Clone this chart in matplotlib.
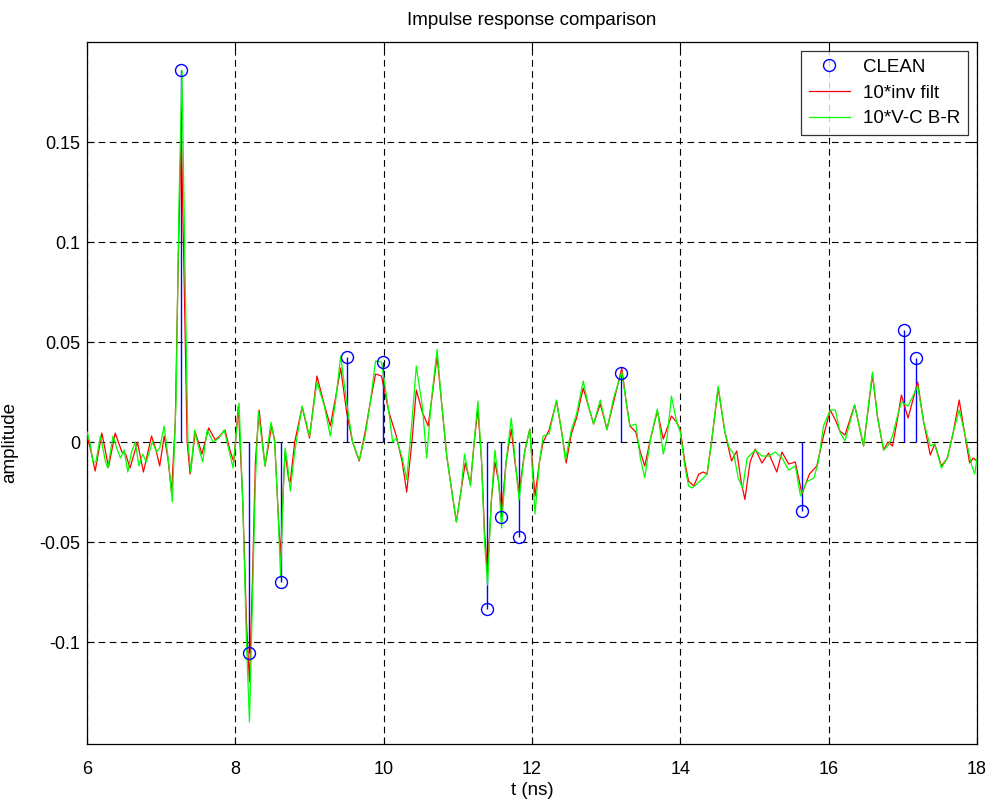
import matplotlib
matplotlib.use("Agg")
import matplotlib.pyplot as plt

plt.rcParams['font.family'] = ['Liberation Sans', 'DejaVu Sans']

# CLEAN components (time in ns, amplitude)
clean_t = [7.267, 8.184, 8.616, 9.505, 9.99, 11.393, 11.58, 11.82, 13.2, 15.64, 17.015, 17.18]
clean_a = [0.186, -0.1055, -0.07, 0.0425, 0.040, -0.0835, -0.0375, -0.0475, 0.0345, -0.0345, 0.056, 0.042]

# 10 * inverse filter response
inv_t = [6.00, 6.05, 6.11, 6.20, 6.29, 6.38, 6.47, 6.52, 6.58, 6.68, 6.76, 6.87, 6.93, 6.98,
         7.04, 7.09, 7.14, 7.19, 7.23, 7.27, 7.31, 7.35, 7.39, 7.46, 7.55, 7.64, 7.73, 7.79,
         7.86, 7.93, 7.98, 8.04, 8.10, 8.15, 8.19, 8.23, 8.27, 8.32, 8.40, 8.49, 8.53, 8.57,
         8.61, 8.65, 8.67, 8.72, 8.74, 8.80, 8.90, 9.00, 9.10, 9.19, 9.28, 9.35, 9.42, 9.50,
         9.58, 9.67, 9.75, 9.82, 9.89, 9.97, 10.07, 10.17, 10.25, 10.31, 10.38, 10.44, 10.52,
         10.60, 10.66, 10.72, 10.78, 10.85, 10.92, 10.98, 11.04, 11.10, 11.17, 11.22, 11.27,
         11.32, 11.36, 11.40, 11.45, 11.50, 11.55, 11.59, 11.65, 11.72, 11.77, 11.825, 11.90,
         11.97, 12.04, 12.10, 12.15, 12.23, 12.33, 12.40, 12.46, 12.53, 12.60, 12.69, 12.76,
         12.83, 12.92, 13.01, 13.10, 13.21, 13.27, 13.32, 13.40, 13.46, 13.52, 13.60, 13.69,
         13.77, 13.88, 13.95, 14.00, 14.06, 14.11, 14.18, 14.25, 14.31, 14.36, 14.42, 14.51,
         14.60, 14.69, 14.76, 14.82, 14.87, 14.94, 15.01, 15.10, 15.19, 15.30, 15.37, 15.46,
         15.55, 15.64, 15.74, 15.84, 15.93, 16.02, 16.09, 16.15, 16.22, 16.35, 16.47, 16.59,
         16.66, 16.74, 16.80, 16.86, 16.92, 16.98, 17.07, 17.20, 17.28, 17.37, 17.43, 17.52,
         17.60, 17.68, 17.76, 17.83, 17.90, 17.95, 18.00]
inv_a = [0.003, -0.004, -0.0145, 0.0045, -0.0125, 0.0045, -0.005, -0.006, -0.013, 0.0, -0.015,
         0.003, -0.004, -0.012, 0.003, -0.008, -0.025, 0.01, 0.09, 0.156, 0.08, 0.0, -0.016,
         0.005, -0.006, 0.007, 0.001, 0.003, 0.006, -0.0045, -0.01, 0.018, -0.03, -0.09, -0.12,
         -0.07, -0.01, 0.016, -0.012, 0.008, 0.001, -0.03, -0.058, -0.02, -0.005, -0.019, -0.02,
         0.0, 0.0175, 0.002, 0.033, 0.02, 0.008, 0.022, 0.037, 0.015, 0.0, -0.0095, 0.005, 0.02,
         0.034, 0.033, 0.015, 0.003, -0.01, -0.025, 0.0, 0.026, 0.015, 0.008, 0.025, 0.043, 0.02,
         -0.007, -0.025, -0.040, -0.025, -0.0105, -0.021, 0.0, 0.0165, -0.01, -0.045, -0.0655,
         -0.03, -0.010, -0.02, -0.035, -0.01, 0.0065, -0.01, -0.0255, -0.005, 0.0065, -0.027,
         -0.01, 0.0, 0.006, 0.0205, 0.005, -0.0105, 0.004, 0.012, 0.027, 0.018, 0.009, 0.019,
         0.0065, 0.02, 0.037, 0.02, 0.008, 0.005, -0.005, -0.012, 0.002, 0.0155, 0.0015, 0.013,
         0.01, 0.006, -0.01, -0.0195, -0.022, -0.016, -0.015, -0.016, 0.0, 0.027, 0.005, -0.0095,
         -0.0045, -0.02, -0.0287, -0.01, -0.0035, -0.0105, -0.0055, -0.015, -0.005, -0.011,
         -0.010, -0.026, -0.016, -0.012, 0.003, 0.016, 0.011, 0.0055, 0.0035, 0.0185, -0.002,
         0.0335, 0.012, -0.004, 0.0, -0.002, 0.01, 0.0235, 0.012, 0.030, 0.01, -0.0065, -0.001,
         -0.012, -0.008, 0.005, 0.021, 0.005, -0.0105, -0.008, -0.0095]

# 10 * V-C B-R response
vc_t = [6.00, 6.04, 6.08, 6.12, 6.18, 6.25, 6.28, 6.35, 6.40, 6.45, 6.50, 6.55, 6.60, 6.65,
        6.70, 6.75, 6.80, 6.88, 6.94, 6.98, 7.04, 7.10, 7.15, 7.20, 7.24, 7.28, 7.32, 7.36,
        7.40, 7.45, 7.50, 7.56, 7.62, 7.70, 7.78, 7.85, 7.92, 7.97, 8.05, 8.10, 8.15, 8.19,
        8.23, 8.27, 8.31, 8.40, 8.48, 8.53, 8.57, 8.61, 8.64, 8.67, 8.70, 8.74, 8.80, 8.90,
        9.00, 9.10, 9.20, 9.28, 9.35, 9.42, 9.50, 9.58, 9.67, 9.75, 9.82, 9.89, 9.97, 10.07,
        10.12, 10.17, 10.25, 10.31, 10.38, 10.44, 10.52, 10.58, 10.64, 10.72, 10.78, 10.85,
        10.92, 10.98, 11.04, 11.09, 11.17, 11.22, 11.27, 11.32, 11.36, 11.40, 11.45, 11.50,
        11.55, 11.59, 11.65, 11.72, 11.77, 11.825, 11.90, 11.97, 12.04, 12.10, 12.15, 12.23,
        12.33, 12.40, 12.45, 12.53, 12.60, 12.69, 12.76, 12.83, 12.92, 13.01, 13.10, 13.21,
        13.27, 13.32, 13.40, 13.46, 13.52, 13.60, 13.69, 13.77, 13.82, 13.88, 13.95, 14.00,
        14.06, 14.11, 14.16, 14.25, 14.31, 14.36, 14.42, 14.51, 14.60, 14.66, 14.72, 14.78,
        14.84, 14.90, 15.01, 15.10, 15.19, 15.28, 15.37, 15.46, 15.55, 15.62, 15.70, 15.80,
        15.86, 15.93, 16.02, 16.09, 16.15, 16.22, 16.35, 16.47, 16.59, 16.66, 16.74, 16.80,
        16.86, 16.92, 16.98, 17.07, 17.20, 17.28, 17.37, 17.43, 17.52, 17.60, 17.68, 17.76,
        17.83, 17.93, 17.97, 18.00]
vc_a = [0.005, 0.0, -0.01, -0.01, 0.003, -0.01, -0.013, 0.003, -0.003, -0.008, -0.004, -0.015,
        -0.005, 0.0, -0.012, -0.006, -0.01, 0.0, -0.005, -0.003, 0.008, -0.01, -0.03, 0.02,
        0.12, 0.186, 0.09, 0.0, -0.015, 0.006, -0.002, -0.01, 0.006, 0.0, 0.002, 0.006, -0.005,
        -0.013, 0.0195, -0.03, -0.10, -0.14, -0.08, -0.02, 0.015, -0.012, 0.01, 0.0, -0.03,
        -0.0675, -0.03, -0.003, -0.01, -0.0245, -0.005, 0.018, 0.003, 0.03, 0.018, 0.003, 0.02,
        0.043, 0.02, 0.0, -0.009, 0.003, 0.02, 0.0405, 0.04, 0.015, 0.0, 0.002, -0.008, -0.0187,
        0.01, 0.038, 0.018, -0.008, 0.02, 0.0463, 0.02, -0.007, -0.025, -0.040, -0.025, -0.006,
        -0.022, 0.0, 0.0205, -0.01, -0.05, -0.0715, -0.03, -0.004, -0.02, -0.043, -0.01, 0.012,
        -0.008, -0.029, -0.005, 0.0065, -0.036, -0.01, 0.003, 0.004, 0.021, 0.005, -0.009, 0.006,
        0.014, 0.0305, 0.018, 0.009, 0.021, 0.006, 0.022, 0.035, 0.02, 0.008, 0.009, -0.008,
        -0.0178, 0.002, 0.0165, -0.006, 0.002, 0.023, 0.01, 0.005, -0.012, -0.022, -0.023,
        -0.02, -0.018, -0.016, 0.0, 0.028, 0.005, -0.003, -0.006, -0.018, -0.023, -0.008,
        -0.004, -0.007, -0.007, -0.005, -0.008, -0.014, -0.012, -0.027, -0.02, -0.018, -0.01,
        0.008, 0.016, 0.016, 0.005, 0.0005, 0.0185, -0.002, 0.035, 0.012, -0.004, -0.002,
        0.003, 0.012, 0.020, 0.018, 0.028, 0.01, -0.002, -0.001, -0.013, -0.008, 0.005, 0.016,
        0.005, -0.012, -0.016, -0.008]

fig = plt.figure(figsize=(9.9, 7.99), dpi=100)
ax = fig.add_axes([0.0879, 0.0688, 0.899, 0.8786])

# stems for the CLEAN output
ax.vlines(clean_t, 0, clean_a, colors='#0000ff', linewidth=1.0, zorder=2)
ax.plot(clean_t, clean_a, linestyle='none', marker='o', markersize=8.6,
        markerfacecolor='none', markeredgecolor='#0000ff', markeredgewidth=1.0,
        label='CLEAN', zorder=4)
ax.plot(inv_t, inv_a, color='#ff0000', linewidth=0.9, label='10*inv filt', zorder=3)
ax.plot(vc_t, vc_a, color='#00ff00', linewidth=0.9, label='10*V-C B-R', zorder=3)

ax.set_xlim(6, 18)
ax.set_ylim(-0.151, 0.2)
ax.set_xticks([6, 8, 10, 12, 14, 16, 18])
ax.set_yticks([-0.1, -0.05, 0, 0.05, 0.1, 0.15])
ax.set_yticklabels(['-0.1', '-0.05', '0', '0.05', '0.1', '0.15'])
ax.tick_params(direction='in', top=True, right=True, length=5, labelsize=13, width=0.8)
ax.tick_params(axis='x', pad=12)
ax.tick_params(axis='y', pad=5)
ax.grid(True, color='black', linestyle=(0, (6, 4)), linewidth=0.8)
ax.set_axisbelow(True)
for s in ax.spines.values():
    s.set_linewidth(0.9)

ax.set_title('Impulse response comparison', fontsize=13.5, pad=12)
ax.set_xlabel('t (ns)', fontsize=13.5, labelpad=3)
ax.set_ylabel('amplitude', fontsize=13.5)
ax.yaxis.set_label_coords(-0.077, 0.43)

leg = ax.legend(loc='upper right', fontsize=13.5, frameon=True, fancybox=False,
                edgecolor='black', borderaxespad=0.5, handlelength=2.2,
                handletextpad=0.7, borderpad=0.4, labelspacing=0.45)
leg.get_frame().set_linewidth(0.9)

fig.savefig('out.png', dpi=100)
